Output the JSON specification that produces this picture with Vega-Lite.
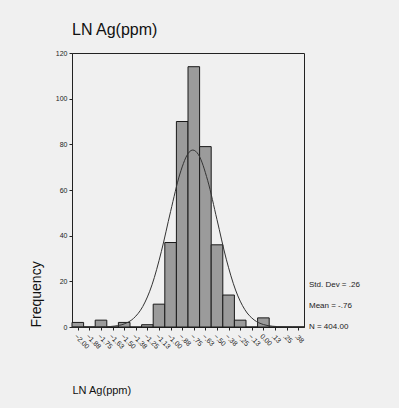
{
  "$schema": "https://vega.github.io/schema/vega-lite/v6.json",
  "width": 232,
  "height": 274,
  "autosize": {"type": "none"},
  "padding": {"left": 72, "top": 53, "right": 95, "bottom": 81},
  "background": "#f0f0f0",
  "title": {
    "text": "LN Ag(ppm)",
    "anchor": "start",
    "frame": "group",
    "fontSize": 16,
    "fontWeight": "normal",
    "font": "Liberation Sans",
    "color": "#111111",
    "offset": 11
  },
  "config": {
    "font": "Liberation Sans",
    "view": {"stroke": "#222222", "strokeWidth": 1}
  },
  "layer": [
    {
      "data": {
        "values": [
          {"bin_start": -2.0625, "bin_end": -1.9375, "count": 2},
          {"bin_start": -1.9375, "bin_end": -1.8125, "count": 0},
          {"bin_start": -1.8125, "bin_end": -1.6875, "count": 3},
          {"bin_start": -1.6875, "bin_end": -1.5625, "count": 0},
          {"bin_start": -1.5625, "bin_end": -1.4375, "count": 2},
          {"bin_start": -1.4375, "bin_end": -1.3125, "count": 0},
          {"bin_start": -1.3125, "bin_end": -1.1875, "count": 1},
          {"bin_start": -1.1875, "bin_end": -1.0625, "count": 10},
          {"bin_start": -1.0625, "bin_end": -0.9375, "count": 37},
          {"bin_start": -0.9375, "bin_end": -0.8125, "count": 90},
          {"bin_start": -0.8125, "bin_end": -0.6875, "count": 114},
          {"bin_start": -0.6875, "bin_end": -0.5625, "count": 79},
          {"bin_start": -0.5625, "bin_end": -0.4375, "count": 36},
          {"bin_start": -0.4375, "bin_end": -0.3125, "count": 14},
          {"bin_start": -0.3125, "bin_end": -0.1875, "count": 3},
          {"bin_start": -0.1875, "bin_end": -0.0625, "count": 0},
          {"bin_start": -0.0625, "bin_end": 0.0625, "count": 4},
          {"bin_start": 0.0625, "bin_end": 0.1875, "count": 0},
          {"bin_start": 0.1875, "bin_end": 0.3125, "count": 0},
          {"bin_start": 0.3125, "bin_end": 0.4375, "count": 0}
        ]
      },
      "mark": {"type": "rect", "fill": "#9b9b9b", "stroke": "#1a1a1a", "strokeWidth": 1},
      "encoding": {
        "x": {
          "field": "bin_start",
          "type": "quantitative",
          "scale": {"domain": [-2.0625, 0.4375], "nice": false, "zero": false},
          "axis": {
            "title": "LN Ag(ppm)",
            "titleAnchor": "start",
            "titleAlign": "left",
            "titleFontSize": 11,
            "titleFontWeight": "normal",
            "titleColor": "#111111",
            "titlePadding": 35,
            "values": [-2, -1.875, -1.75, -1.625, -1.5, -1.375, -1.25, -1.125, -1, -0.875, -0.75, -0.625, -0.5, -0.375, -0.25, -0.125, 0, 0.125, 0.25, 0.375],
            "tickCount": 40,
            "labelExpr": "datum.value == 0 ? '0.00' : replace(format(datum.value, '.2f'), '0.', '.')",
            "labelAngle": 45,
            "labelFontSize": 7,
            "labelColor": "#222222",
            "labelOverlap": false,
            "labelFlush": false,
            "labelPadding": 2,
            "tickSize": 3,
            "tickColor": "#222222",
            "domainColor": "#222222",
            "grid": false
          }
        },
        "x2": {"field": "bin_end"},
        "y": {
          "field": "count",
          "type": "quantitative",
          "scale": {"domain": [0, 120], "nice": false},
          "axis": {
            "title": "Frequency",
            "titleAnchor": "start",
            "titleFontSize": 14,
            "titleFontWeight": "normal",
            "titleColor": "#111111",
            "titlePadding": 12,
            "values": [0, 20, 40, 60, 80, 100, 120],
            "tickCount": 10,
            "labelFontSize": 7,
            "labelColor": "#222222",
            "labelPadding": 2,
            "tickSize": 3,
            "tickColor": "#222222",
            "domainColor": "#222222",
            "grid": false
          }
        },
        "y2": {"datum": 0}
      }
    },
    {
      "data": {
        "values": [
          {"x": -2.0625, "f": 0},
          {"x": -1.9, "f": 0.01},
          {"x": -1.8, "f": 0.03},
          {"x": -1.7, "f": 0.11},
          {"x": -1.6, "f": 0.42},
          {"x": -1.5, "f": 1.35},
          {"x": -1.4, "f": 3.75},
          {"x": -1.3, "f": 8.97},
          {"x": -1.2, "f": 18.5},
          {"x": -1.1, "f": 33.0},
          {"x": -1.0, "f": 50.6},
          {"x": -0.9, "f": 67.0},
          {"x": -0.8, "f": 76.6},
          {"x": -0.76, "f": 77.5},
          {"x": -0.7, "f": 75.5},
          {"x": -0.6, "f": 64.1},
          {"x": -0.5, "f": 47.0},
          {"x": -0.4, "f": 29.7},
          {"x": -0.3, "f": 16.2},
          {"x": -0.2, "f": 7.6},
          {"x": -0.1, "f": 3.1},
          {"x": 0.0, "f": 1.08},
          {"x": 0.1, "f": 0.33},
          {"x": 0.2, "f": 0.09},
          {"x": 0.3, "f": 0.02},
          {"x": 0.4375, "f": 0}
        ]
      },
      "mark": {"type": "line", "interpolate": "monotone", "stroke": "#333333", "strokeWidth": 1},
      "encoding": {
        "x": {"field": "x", "type": "quantitative"},
        "y": {"field": "f", "type": "quantitative"}
      }
    },
    {
      "data": {"values": [{"stat": "summary"}]},
      "mark": {"type": "text", "align": "left", "baseline": "middle", "fontSize": 8, "lineHeight": 21, "color": "#222222"},
      "encoding": {
        "x": {"datum": 0.491, "type": "quantitative"},
        "y": {"datum": 18.6, "type": "quantitative"},
        "text": {"value": ["Std. Dev = .26", "Mean = -.76", "N = 404.00"]}
      }
    }
  ]
}
